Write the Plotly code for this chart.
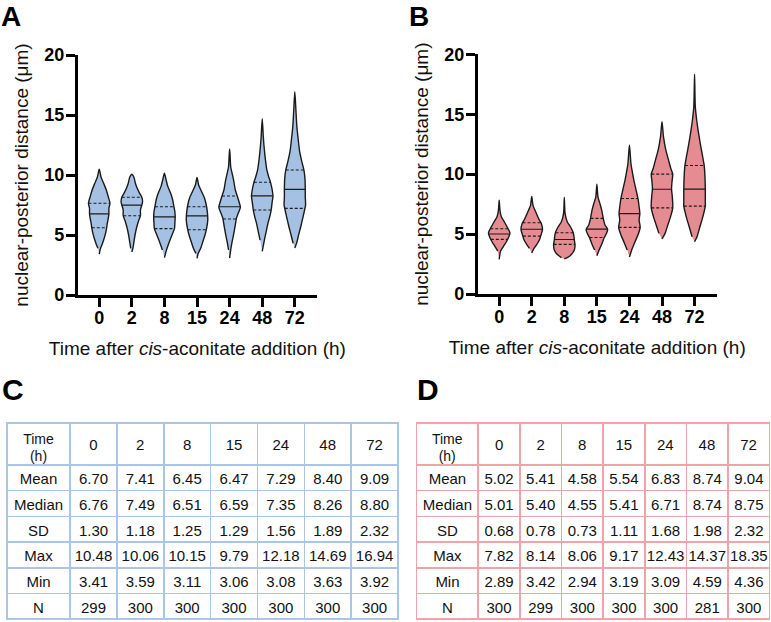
import numpy as np
import plotly.graph_objects as go

# ---------------- data ----------------
times = ["0", "2", "8", "15", "24", "48", "72"]
stat_names = ["Mean", "Median", "SD", "Max", "Min", "N"]

a_mean = [6.70, 7.41, 6.45, 6.47, 7.29, 8.40, 9.09]
a_median = [6.76, 7.49, 6.51, 6.59, 7.35, 8.26, 8.80]
a_sd = [1.30, 1.18, 1.25, 1.29, 1.56, 1.89, 2.32]
a_max = [10.48, 10.06, 10.15, 9.79, 12.18, 14.69, 16.94]
a_min = [3.41, 3.59, 3.11, 3.06, 3.08, 3.63, 3.92]
a_n = [299, 300, 300, 300, 300, 300, 300]

b_mean = [5.02, 5.41, 4.58, 5.54, 6.83, 8.74, 9.04]
b_median = [5.01, 5.40, 4.55, 5.41, 6.71, 8.74, 8.75]
b_sd = [0.68, 0.78, 0.73, 1.11, 1.68, 1.98, 2.32]
b_max = [7.82, 8.14, 8.06, 9.17, 12.43, 14.37, 18.35]
b_min = [2.89, 3.42, 2.94, 3.19, 3.09, 4.59, 4.36]
b_n = [300, 299, 300, 300, 300, 281, 300]

# quartiles
a_q1 = [5.60, 6.61, 5.53, 5.44, 6.33, 7.08, 7.22]
a_q3 = [7.64, 8.14, 7.36, 7.36, 8.25, 9.39, 10.42]
b_q1 = [4.56, 4.83, 4.14, 4.72, 5.56, 7.19, 7.33]
b_q3 = [5.44, 5.94, 5.11, 6.31, 7.97, 10.00, 10.72]

# violin density profiles: value levels and relative half-widths
a_levels = [
    [3.41, 3.89, 4.17, 4.58, 5.14, 5.60, 5.97, 6.39, 6.75, 7.22, 7.64, 8.19, 8.75, 9.31, 9.86, 10.48],
    [3.59, 3.89, 4.44, 5.00, 5.56, 6.11, 6.61, 7.08, 7.50, 7.78, 8.14, 8.47, 8.89, 9.31, 9.72, 9.95, 10.06],
    [3.11, 3.75, 4.17, 4.58, 5.14, 5.56, 5.97, 6.47, 6.94, 7.42, 7.92, 8.47, 9.03, 9.58, 10.15],
    [3.06, 3.47, 3.89, 4.44, 5.00, 5.56, 6.25, 6.81, 7.50, 8.06, 8.61, 9.17, 9.79],
    [3.08, 3.75, 4.31, 4.86, 5.69, 6.39, 6.81, 7.31, 7.69, 8.19, 8.75, 9.58, 10.14, 10.69, 11.50, 12.18],
    [3.63, 4.58, 5.28, 5.97, 6.53, 7.08, 7.78, 8.22, 8.75, 9.39, 9.86, 10.42, 11.25, 12.36, 13.19, 14.69],
    [3.92, 4.31, 5.00, 5.69, 6.53, 7.22, 7.50, 8.19, 8.81, 9.72, 10.42, 11.11, 11.94, 12.92, 14.03, 15.42, 16.94],
]
a_widths = [
    [0, 0.12, 0.25, 0.41, 0.59, 0.69, 0.75, 0.84, 0.90, 0.90, 1.00, 0.84, 0.66, 0.41, 0.16, 0],
    [0, 0.10, 0.20, 0.30, 0.43, 0.60, 0.80, 0.80, 0.93, 1.00, 0.93, 0.73, 0.50, 0.33, 0.23, 0.12, 0],
    [0, 0.19, 0.35, 0.52, 0.77, 0.94, 0.97, 1.00, 0.97, 0.87, 0.77, 0.58, 0.32, 0.16, 0],
    [0, 0.11, 0.34, 0.54, 0.74, 0.89, 1.00, 0.97, 0.86, 0.70, 0.43, 0.15, 0],
    [0, 0.10, 0.20, 0.33, 0.50, 0.63, 0.80, 1.00, 0.90, 0.73, 0.53, 0.37, 0.23, 0.10, 0.05, 0],
    [0, 0.20, 0.37, 0.53, 0.70, 0.83, 0.93, 1.00, 0.93, 0.77, 0.60, 0.43, 0.30, 0.17, 0.10, 0],
    [0, 0.16, 0.35, 0.55, 0.77, 0.94, 1.00, 0.97, 0.97, 0.94, 0.84, 0.65, 0.45, 0.32, 0.19, 0.10, 0],
]
b_levels = [
    [2.89, 3.58, 3.94, 4.36, 4.78, 5.06, 5.28, 5.61, 6.03, 6.44, 7.00, 7.82],
    [3.42, 3.81, 4.08, 4.50, 4.92, 5.39, 5.89, 6.17, 6.58, 7.00, 7.42, 8.14],
    [2.94, 3.03, 3.31, 3.67, 4.08, 4.50, 4.78, 5.19, 5.61, 6.03, 6.72, 8.06],
    [3.19, 3.67, 4.22, 4.72, 5.06, 5.39, 5.75, 6.31, 7.00, 7.56, 8.11, 9.17],
    [3.09, 3.67, 4.36, 4.92, 5.56, 6.17, 6.72, 7.28, 7.97, 8.67, 9.50, 10.33, 10.89, 12.43],
    [4.59, 5.06, 5.75, 6.44, 7.19, 8.11, 8.75, 9.36, 10.00, 10.47, 11.17, 12.00, 13.11, 14.37],
    [4.36, 4.78, 5.61, 6.44, 7.33, 7.83, 8.75, 9.78, 10.69, 11.58, 12.56, 13.67, 14.50, 15.61, 18.35],
]
b_widths = [
    [0, 0.13, 0.37, 0.67, 0.90, 1.00, 0.93, 0.73, 0.47, 0.20, 0.07, 0],
    [0, 0.21, 0.43, 0.71, 0.86, 1.00, 0.89, 0.71, 0.50, 0.29, 0.11, 0],
    [0, 0.27, 0.67, 0.93, 1.00, 0.93, 0.90, 0.80, 0.57, 0.27, 0.07, 0],
    [0, 0.21, 0.48, 0.69, 0.90, 1.00, 0.76, 0.59, 0.45, 0.28, 0.10, 0],
    [0, 0.21, 0.52, 0.79, 1.00, 0.90, 0.97, 0.90, 0.79, 0.62, 0.41, 0.24, 0.14, 0],
    [0, 0.29, 0.54, 0.79, 1.00, 0.96, 0.89, 0.93, 1.00, 0.82, 0.61, 0.36, 0.14, 0],
    [0, 0.23, 0.50, 0.77, 1.00, 1.00, 1.00, 0.97, 0.90, 0.73, 0.53, 0.33, 0.20, 0.07, 0],
]

# ---------------- style ----------------
FONT = "Liberation Sans, Arial, Helvetica, sans-serif"
BLUE = "#a4c1e4"
PINK = "#e48c92"
BLUE_LINE = "#a9c6e6"
PINK_LINE = "#f0a3a9"
OUTLINE = "#1a1a1a"
CLEAR = "rgba(0,0,0,0)"
HALF = 0.33

fig = go.Figure()


def add_violins(levels, widths, q1, med, q3, xa, ya, fill):
    for i in range(len(levels)):
        lv = np.array(levels[i], dtype=float)
        wd = np.array(widths[i], dtype=float) * HALF
        xs = np.concatenate([i + wd, (i - wd)[::-1][1:-1]])
        ys = np.concatenate([lv, lv[::-1][1:-1]])
        fig.add_trace(go.Scatter(
            x=xs, y=ys, xaxis=xa, yaxis=ya, mode="lines", fill="toself",
            fillcolor=fill, line=dict(color=OUTLINE, width=1.4, shape="spline", smoothing=0.7),
            hoverinfo="skip", showlegend=False))
        for q, dash in ((q1[i], "3px,2px"), (med[i], "solid"), (q3[i], "3px,2px")):
            hw = float(np.interp(q, lv, wd))
            fig.add_trace(go.Scatter(
                x=[i - hw, i + hw], y=[q, q], xaxis=xa, yaxis=ya, mode="lines",
                line=dict(color=OUTLINE, width=1.1, dash=dash),
                hoverinfo="skip", showlegend=False))


add_violins(a_levels, a_widths, a_q1, a_median, a_q3, "x", "y", BLUE)
add_violins(b_levels, b_widths, b_q1, b_median, b_q3, "x2", "y2", PINK)

W, H = 771, 622


def px_x(p):
    return p / W


def px_y(p):
    return 1 - p / H


xcommon = dict(
    tickvals=list(range(len(times))), ticktext=times, showline=True, linecolor="black",
    linewidth=2.5, ticks="outside", ticklen=9, tickwidth=2.5, tickcolor="black",
    showgrid=False, zeroline=False, range=[-0.66, 6.68], automargin=False,
    ticklabelstandoff=-4,
    tickfont=dict(family=FONT, size=18, color="black", weight="bold"),
    title=dict(text="Time after <i>cis</i>-aconitate addition (h)",
               font=dict(family=FONT, size=19, color="#111"), standoff=15),
)
ycommon = dict(
    range=[0, 20], tickvals=[0, 5, 10, 15, 20], showline=True, linecolor="black",
    linewidth=2.5, ticks="outside", ticklen=9, tickwidth=2.5, tickcolor="black",
    showgrid=False, zeroline=False, automargin=False, ticklabelstandoff=-2,
    tickfont=dict(family=FONT, size=18, color="black", weight="bold"),
    title=dict(text="nuclear-posterior distance (μm)",
               font=dict(family=FONT, size=19, color="#111"), standoff=11),
)

fig.update_layout(
    width=W, height=H, margin=dict(l=0, r=0, t=0, b=0, autoexpand=False),
    paper_bgcolor="white", plot_bgcolor="white",
    xaxis=dict(domain=[px_x(77.7), px_x(317)], anchor="y", **xcommon),
    yaxis=dict(domain=[px_y(295), px_y(55)], anchor="x", **ycommon),
    xaxis2=dict(domain=[px_x(477.7), px_x(716.7)], anchor="y2", **xcommon),
    yaxis2=dict(domain=[px_y(294), px_y(54.3)], anchor="x2", **ycommon),
)


def fmt_cols(mean, median, sd, mx, mn, n):
    cols = [stat_names]
    for i in range(len(times)):
        cols.append([f"{mean[i]:.2f}", f"{median[i]:.2f}", f"{sd[i]:.2f}",
                     f"{mx[i]:.2f}", f"{mn[i]:.2f}", str(n[i])])
    return cols


TFONT = dict(family=FONT, size=15, color="#111")
HFONT = dict(family=FONT, size=14, color="#111")
TOP = 423
HEAD_H = 42


def header_only(values, x0, x1, top, widths, font):
    fig.add_trace(go.Table(
        domain=dict(x=[px_x(x0), px_x(x1)], y=[px_y(top + HEAD_H + 2), px_y(top)]),
        columnwidth=widths,
        header=dict(values=values, height=HEAD_H, line=dict(color=CLEAR, width=0),
                    fill_color=CLEAR, align="center", font=font),
        cells=dict(values=[[] for _ in values], line=dict(color=CLEAR, width=0),
                   fill_color=CLEAR),
    ))


def add_table(cols, x0, x1, first_w, other_w, line_color):
    # grid, row labels and body
    fig.add_trace(go.Table(
        domain=dict(x=[px_x(x0), px_x(x1)], y=[0, px_y(TOP)]),
        columnwidth=[first_w] + [other_w] * len(times),
        header=dict(values=[""] * (len(times) + 1), height=HEAD_H,
                    line=dict(color=line_color, width=1.5), fill_color="white",
                    align="center", font=TFONT),
        cells=dict(values=cols, height=25.7,
                   line=dict(color=line_color, width=1.5), fill_color="white",
                   align="center", font=TFONT),
    ))
    # header time labels, vertically centred in the header row
    header_only(times, x0 + first_w, x1, TOP + 8, [other_w] * len(times), TFONT)
    # two-line label of the first header cell
    header_only(["Time"], x0, x0 + first_w, TOP + 2, [first_w], HFONT)
    header_only(["(h)"], x0, x0 + first_w, TOP + 19, [first_w], HFONT)


add_table(fmt_cols(a_mean, a_median, a_sd, a_max, a_min, a_n), 7, 398, 63, 46.8, BLUE_LINE)
add_table(fmt_cols(b_mean, b_median, b_sd, b_max, b_min, b_n), 416.7, 770, 61.6, 41.7, PINK_LINE)

for label, xp in (("A", 0), ("B", 408)):
    fig.add_annotation(text=f"<b>{label}</b>", xref="paper", yref="paper",
                       x=px_x(xp), y=1.0, xanchor="left", yanchor="top", borderpad=0,
                       showarrow=False, font=dict(family=FONT, size=28, color="black"))
for label, xp in (("C", 0), ("D", 415)):
    fig.add_annotation(text=f"<b>{label}</b>", xref="paper", yref="paper",
                       x=px_x(xp), y=px_y(389), xanchor="left", yanchor="middle",
                       showarrow=False, font=dict(family=FONT, size=30, color="black"))

fig.write_html("out.html", config={"displayModeBar": False},
               post_script="document.body.style.margin='0px';")
